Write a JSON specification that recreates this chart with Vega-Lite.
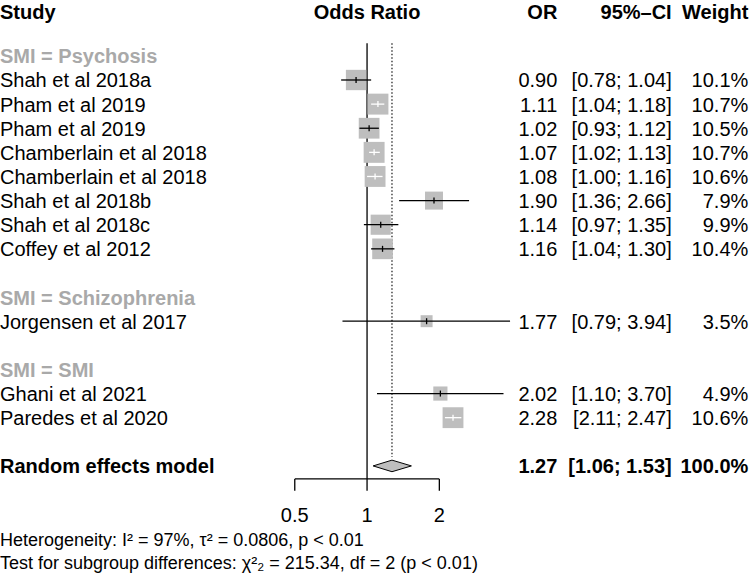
{
  "$schema": "https://vega.github.io/schema/vega-lite/v6.json",
  "width": 750,
  "height": 576,
  "autosize": {"type": "fit", "contains": "padding"},
  "padding": 0,
  "config": {"view": {"stroke": null}, "axis": {"disable": true}, "text": {"font": "Liberation Sans", "fontSize": 20}},
  "datasets": {
    "studies": [
      {"row": 1, "type": "label", "study": "SMI = Psychosis"},
      {"row": 2, "type": "study", "study": "Shah et al 2018a", "or": 0.90, "lower": 0.78, "upper": 1.04, "weight": 10.1},
      {"row": 3, "type": "study", "study": "Pham et al 2019", "or": 1.11, "lower": 1.04, "upper": 1.18, "weight": 10.7},
      {"row": 4, "type": "study", "study": "Pham et al 2019", "or": 1.02, "lower": 0.93, "upper": 1.12, "weight": 10.5},
      {"row": 5, "type": "study", "study": "Chamberlain et al 2018", "or": 1.07, "lower": 1.02, "upper": 1.13, "weight": 10.7},
      {"row": 6, "type": "study", "study": "Chamberlain et al 2018", "or": 1.08, "lower": 1.00, "upper": 1.16, "weight": 10.6},
      {"row": 7, "type": "study", "study": "Shah et al 2018b", "or": 1.90, "lower": 1.36, "upper": 2.66, "weight": 7.9},
      {"row": 8, "type": "study", "study": "Shah et al 2018c", "or": 1.14, "lower": 0.97, "upper": 1.35, "weight": 9.9},
      {"row": 9, "type": "study", "study": "Coffey et al 2012", "or": 1.16, "lower": 1.04, "upper": 1.30, "weight": 10.4},
      {"row": 11, "type": "label", "study": "SMI = Schizophrenia"},
      {"row": 12, "type": "study", "study": "Jorgensen et al 2017", "or": 1.77, "lower": 0.79, "upper": 3.94, "weight": 3.5},
      {"row": 14, "type": "label", "study": "SMI = SMI"},
      {"row": 15, "type": "study", "study": "Ghani et al 2021", "or": 2.02, "lower": 1.10, "upper": 3.70, "weight": 4.9},
      {"row": 16, "type": "study", "study": "Paredes et al 2020", "or": 2.28, "lower": 2.11, "upper": 2.47, "weight": 10.6},
      {"row": 18, "type": "total", "study": "Random effects model", "or": 1.27, "lower": 1.06, "upper": 1.53, "weight": 100.0}
    ]
  },
  "layer": [
    {
      "data": {"values": [{}]},
      "mark": {"type": "rule", "color": "black", "strokeWidth": 1.3},
      "encoding": {
        "x": {"datum": 1, "type": "quantitative", "scale": {"type": "log", "domain": [0.02961, 39.33], "nice": false}},
        "y": {"datum": 0.48, "type": "quantitative", "scale": {"domain": [-1.3167, 22.564], "reverse": true, "nice": false, "zero": false}},
        "y2": {"datum": 18.54}
      }
    },
    {
      "data": {"name": "studies"},
      "transform": [{"filter": "datum.type == 'total'"}],
      "mark": {"type": "rule", "color": "black", "strokeWidth": 1.1, "strokeDash": [1.5, 2]},
      "encoding": {
        "x": {"field": "or", "type": "quantitative", "scale": {"type": "log", "domain": [0.02961, 39.33], "nice": false}},
        "y": {"datum": 0.48, "type": "quantitative", "scale": {"domain": [-1.3167, 22.564], "reverse": true, "nice": false, "zero": false}},
        "y2": {"datum": 17.63}
      }
    },
    {
      "data": {"values": [{}]},
      "mark": {"type": "rule", "color": "black", "strokeWidth": 1.3},
      "encoding": {
        "x": {"datum": 0.5, "type": "quantitative", "scale": {"type": "log", "domain": [0.02961, 39.33], "nice": false}},
        "x2": {"datum": 2},
        "y": {"datum": 18.54, "type": "quantitative", "scale": {"domain": [-1.3167, 22.564], "reverse": true, "nice": false, "zero": false}}
      }
    },
    {
      "data": {"values": [{"tick": 0.5}, {"tick": 1}, {"tick": 2}]},
      "layer": [
        {
          "mark": {"type": "rule", "color": "black", "strokeWidth": 1.3},
          "encoding": {
            "x": {"field": "tick", "type": "quantitative", "scale": {"type": "log", "domain": [0.02961, 39.33], "nice": false}},
            "y": {"datum": 18.54, "type": "quantitative", "scale": {"domain": [-1.3167, 22.564], "reverse": true, "nice": false, "zero": false}},
            "y2": {"datum": 19.03}
          }
        },
        {
          "mark": {"type": "text", "align": "center", "baseline": "alphabetic", "dy": 7.5, "fontSize": 20, "color": "black"},
          "encoding": {
            "x": {"field": "tick", "type": "quantitative", "scale": {"type": "log", "domain": [0.02961, 39.33], "nice": false}},
            "y": {"datum": 20.0, "type": "quantitative", "scale": {"domain": [-1.3167, 22.564], "reverse": true, "nice": false, "zero": false}},
            "text": {"field": "tick", "type": "quantitative", "format": "~g"}
          }
        }
      ]
    },
    {
      "data": {"name": "studies"},
      "transform": [{"filter": "datum.type == 'study'"}],
      "layer": [
        {
          "mark": {"type": "square", "filled": true, "color": "#bebebe", "opacity": 1},
          "encoding": {
            "x": {"field": "or", "type": "quantitative", "scale": {"type": "log", "domain": [0.02961, 39.33], "nice": false}},
            "y": {"field": "row", "type": "quantitative", "scale": {"domain": [-1.3167, 22.564], "reverse": true, "nice": false, "zero": false}},
            "size": {"field": "weight", "type": "quantitative", "scale": {"domain": [0, 10], "range": [0, 410]}, "legend": null}
          }
        },
        {
          "mark": {"type": "rule", "strokeWidth": 1.3},
          "encoding": {
            "x": {"field": "lower", "type": "quantitative", "scale": {"type": "log", "domain": [0.02961, 39.33], "nice": false}},
            "x2": {"field": "upper"},
            "y": {"field": "row", "type": "quantitative", "scale": {"domain": [-1.3167, 22.564], "reverse": true, "nice": false, "zero": false}},
            "color": {"condition": {"test": "datum.upper / datum.lower < 1.18", "value": "white"}, "value": "black"}
          }
        },
        {
          "mark": {"type": "tick", "orient": "vertical", "size": 6, "thickness": 1.3, "opacity": 1},
          "encoding": {
            "x": {"field": "or", "type": "quantitative", "scale": {"type": "log", "domain": [0.02961, 39.33], "nice": false}},
            "y": {"field": "row", "type": "quantitative", "scale": {"domain": [-1.3167, 22.564], "reverse": true, "nice": false, "zero": false}},
            "color": {"condition": {"test": "datum.upper / datum.lower < 1.18", "value": "white"}, "value": "black"}
          }
        },
        {
          "mark": {"type": "text", "align": "left", "baseline": "alphabetic", "dy": 7.5, "color": "black"},
          "encoding": {
            "x": {"datum": 0.02961, "type": "quantitative", "scale": {"type": "log", "domain": [0.02961, 39.33], "nice": false}},
            "y": {"field": "row", "type": "quantitative", "scale": {"domain": [-1.3167, 22.564], "reverse": true, "nice": false, "zero": false}},
            "text": {"field": "study"}
          }
        },
        {
          "transform": [
            {"calculate": "format(datum.or, '.2f')", "as": "ortext"},
            {"calculate": "'[' + format(datum.lower, '.2f') + '; ' + format(datum.upper, '.2f') + ']'", "as": "citext"},
            {"calculate": "format(datum.weight, '.1f') + '%'", "as": "wtext"}
          ],
          "layer": [
            {
              "mark": {"type": "text", "align": "right", "baseline": "alphabetic", "dy": 7.5, "color": "black"},
              "encoding": {
                "x": {"datum": 6.20, "type": "quantitative", "scale": {"type": "log", "domain": [0.02961, 39.33], "nice": false}},
                "y": {"field": "row", "type": "quantitative", "scale": {"domain": [-1.3167, 22.564], "reverse": true, "nice": false, "zero": false}},
                "text": {"field": "ortext"}
              }
            },
            {
              "mark": {"type": "text", "align": "right", "baseline": "alphabetic", "dy": 7.5, "color": "black"},
              "encoding": {
                "x": {"datum": 18.56, "type": "quantitative", "scale": {"type": "log", "domain": [0.02961, 39.33], "nice": false}},
                "y": {"field": "row", "type": "quantitative", "scale": {"domain": [-1.3167, 22.564], "reverse": true, "nice": false, "zero": false}},
                "text": {"field": "citext"}
              }
            },
            {
              "mark": {"type": "text", "align": "right", "baseline": "alphabetic", "dy": 7.5, "color": "black"},
              "encoding": {
                "x": {"datum": 38.7, "type": "quantitative", "scale": {"type": "log", "domain": [0.02961, 39.33], "nice": false}},
                "y": {"field": "row", "type": "quantitative", "scale": {"domain": [-1.3167, 22.564], "reverse": true, "nice": false, "zero": false}},
                "text": {"field": "wtext"}
              }
            }
          ]
        }
      ]
    },
    {
      "data": {"name": "studies"},
      "transform": [{"filter": "datum.type == 'label'"}],
      "mark": {"type": "text", "align": "left", "baseline": "alphabetic", "dy": 7.5, "fontWeight": "bold", "color": "#a9a9a9"},
      "encoding": {
        "x": {"datum": 0.02961, "type": "quantitative", "scale": {"type": "log", "domain": [0.02961, 39.33], "nice": false}},
        "y": {"field": "row", "type": "quantitative", "scale": {"domain": [-1.3167, 22.564], "reverse": true, "nice": false, "zero": false}},
        "text": {"field": "study"}
      }
    },
    {
      "data": {"name": "studies"},
      "transform": [
        {"filter": "datum.type == 'total'"},
        {"calculate": "format(datum.or, '.2f')", "as": "ortext"},
        {"calculate": "'[' + format(datum.lower, '.2f') + '; ' + format(datum.upper, '.2f') + ']'", "as": "citext"},
        {"calculate": "format(datum.weight, '.1f') + '%'", "as": "wtext"}
      ],
      "layer": [
        {
          "transform": [
            {"fold": ["lower", "or", "upper"], "as": ["part", "xv"]},
            {"calculate": "datum.part == 'or' ? 0.24 : 0", "as": "h"},
            {"calculate": "datum.row - datum.h", "as": "ytop"},
            {"calculate": "datum.row + datum.h", "as": "ybot"}
          ],
          "mark": {"type": "area", "fill": "#bebebe", "stroke": "black", "strokeWidth": 1, "opacity": 1},
          "encoding": {
            "x": {"field": "xv", "type": "quantitative", "scale": {"type": "log", "domain": [0.02961, 39.33], "nice": false}},
            "y": {"field": "ytop", "type": "quantitative", "scale": {"domain": [-1.3167, 22.564], "reverse": true, "nice": false, "zero": false}},
            "y2": {"field": "ybot"}
          }
        },
        {
          "mark": {"type": "text", "align": "left", "baseline": "alphabetic", "dy": 7.5, "fontWeight": "bold", "color": "black"},
          "encoding": {
            "x": {"datum": 0.02961, "type": "quantitative", "scale": {"type": "log", "domain": [0.02961, 39.33], "nice": false}},
            "y": {"field": "row", "type": "quantitative", "scale": {"domain": [-1.3167, 22.564], "reverse": true, "nice": false, "zero": false}},
            "text": {"field": "study"}
          }
        },
        {
          "mark": {"type": "text", "align": "right", "baseline": "alphabetic", "dy": 7.5, "fontWeight": "bold", "color": "black"},
          "encoding": {
            "x": {"datum": 6.20, "type": "quantitative", "scale": {"type": "log", "domain": [0.02961, 39.33], "nice": false}},
            "y": {"field": "row", "type": "quantitative", "scale": {"domain": [-1.3167, 22.564], "reverse": true, "nice": false, "zero": false}},
            "text": {"field": "ortext"}
          }
        },
        {
          "mark": {"type": "text", "align": "right", "baseline": "alphabetic", "dy": 7.5, "fontWeight": "bold", "color": "black"},
          "encoding": {
            "x": {"datum": 18.56, "type": "quantitative", "scale": {"type": "log", "domain": [0.02961, 39.33], "nice": false}},
            "y": {"field": "row", "type": "quantitative", "scale": {"domain": [-1.3167, 22.564], "reverse": true, "nice": false, "zero": false}},
            "text": {"field": "citext"}
          }
        },
        {
          "mark": {"type": "text", "align": "right", "baseline": "alphabetic", "dy": 7.5, "fontWeight": "bold", "color": "black"},
          "encoding": {
            "x": {"datum": 38.7, "type": "quantitative", "scale": {"type": "log", "domain": [0.02961, 39.33], "nice": false}},
            "y": {"field": "row", "type": "quantitative", "scale": {"domain": [-1.3167, 22.564], "reverse": true, "nice": false, "zero": false}},
            "text": {"field": "wtext"}
          }
        }
      ]
    },
    {
      "data": {"values": [
        {"label": "Study", "col": "study"},
        {"label": "Odds Ratio", "col": "plot"},
        {"label": "OR", "col": "or"},
        {"label": "95%–CI", "col": "ci"},
        {"label": "Weight", "col": "weight"}
      ]},
      "layer": [
        {
          "transform": [{"filter": "datum.col == 'study'"}],
          "mark": {"type": "text", "align": "left", "baseline": "alphabetic", "dy": 7.5, "fontWeight": "bold", "color": "black"},
          "encoding": {
            "x": {"datum": 0.02961, "type": "quantitative", "scale": {"type": "log", "domain": [0.02961, 39.33], "nice": false}},
            "y": {"datum": -0.86, "type": "quantitative", "scale": {"domain": [-1.3167, 22.564], "reverse": true, "nice": false, "zero": false}},
            "text": {"field": "label"}
          }
        },
        {
          "transform": [{"filter": "datum.col == 'plot'"}],
          "mark": {"type": "text", "align": "center", "baseline": "alphabetic", "dy": 7.5, "fontWeight": "bold", "color": "black"},
          "encoding": {
            "x": {"datum": 1, "type": "quantitative", "scale": {"type": "log", "domain": [0.02961, 39.33], "nice": false}},
            "y": {"datum": -0.86, "type": "quantitative", "scale": {"domain": [-1.3167, 22.564], "reverse": true, "nice": false, "zero": false}},
            "text": {"field": "label"}
          }
        },
        {
          "transform": [{"filter": "datum.col == 'or'"}],
          "mark": {"type": "text", "align": "right", "baseline": "alphabetic", "dy": 7.5, "fontWeight": "bold", "color": "black"},
          "encoding": {
            "x": {"datum": 6.20, "type": "quantitative", "scale": {"type": "log", "domain": [0.02961, 39.33], "nice": false}},
            "y": {"datum": -0.86, "type": "quantitative", "scale": {"domain": [-1.3167, 22.564], "reverse": true, "nice": false, "zero": false}},
            "text": {"field": "label"}
          }
        },
        {
          "transform": [{"filter": "datum.col == 'ci'"}],
          "mark": {"type": "text", "align": "right", "baseline": "alphabetic", "dy": 7.5, "fontWeight": "bold", "color": "black"},
          "encoding": {
            "x": {"datum": 18.56, "type": "quantitative", "scale": {"type": "log", "domain": [0.02961, 39.33], "nice": false}},
            "y": {"datum": -0.86, "type": "quantitative", "scale": {"domain": [-1.3167, 22.564], "reverse": true, "nice": false, "zero": false}},
            "text": {"field": "label"}
          }
        },
        {
          "transform": [{"filter": "datum.col == 'weight'"}],
          "mark": {"type": "text", "align": "right", "baseline": "alphabetic", "dy": 7.5, "fontWeight": "bold", "color": "black"},
          "encoding": {
            "x": {"datum": 38.7, "type": "quantitative", "scale": {"type": "log", "domain": [0.02961, 39.33], "nice": false}},
            "y": {"datum": -0.86, "type": "quantitative", "scale": {"domain": [-1.3167, 22.564], "reverse": true, "nice": false, "zero": false}},
            "text": {"field": "label"}
          }
        }
      ]
    },
    {
      "data": {"values": [
        {"line": "Heterogeneity: I² = 97%, τ² = 0.0806, p < 0.01", "k": 1},
        {"line": "Test for subgroup differences: χ²₂ = 215.34, df = 2 (p < 0.01)", "k": 2}
      ]},
      "layer": [
        {
          "transform": [{"filter": "datum.k == 1"}],
          "mark": {"type": "text", "align": "left", "baseline": "alphabetic", "dy": 7.5, "fontSize": 18, "color": "black"},
          "encoding": {
            "x": {"datum": 0.02961, "type": "quantitative", "scale": {"type": "log", "domain": [0.02961, 39.33], "nice": false}},
            "y": {"datum": 21.0, "type": "quantitative", "scale": {"domain": [-1.3167, 22.564], "reverse": true, "nice": false, "zero": false}},
            "text": {"field": "line"}
          }
        },
        {
          "transform": [{"filter": "datum.k == 2"}],
          "mark": {"type": "text", "align": "left", "baseline": "alphabetic", "dy": 7.5, "fontSize": 18, "color": "black"},
          "encoding": {
            "x": {"datum": 0.02961, "type": "quantitative", "scale": {"type": "log", "domain": [0.02961, 39.33], "nice": false}},
            "y": {"datum": 21.95, "type": "quantitative", "scale": {"domain": [-1.3167, 22.564], "reverse": true, "nice": false, "zero": false}},
            "text": {"field": "line"}
          }
        }
      ]
    }
  ]
}
